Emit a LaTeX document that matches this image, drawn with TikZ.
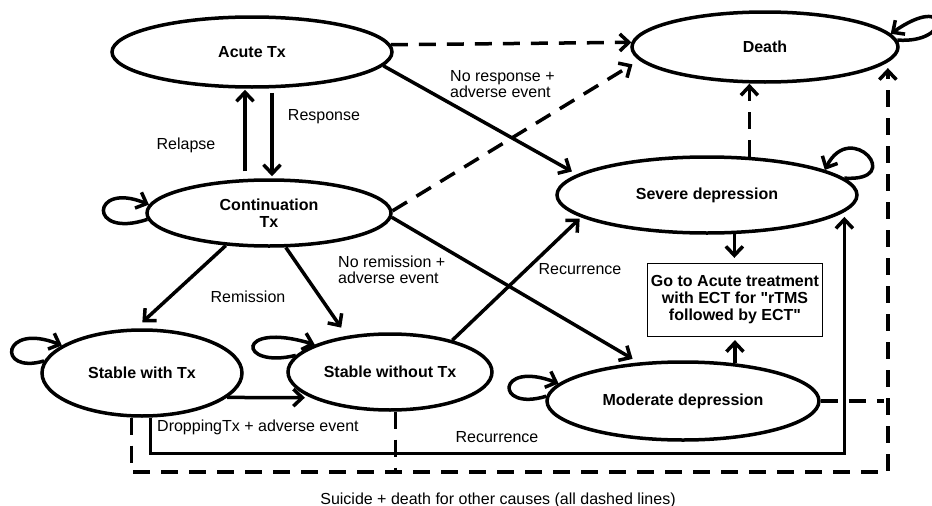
\documentclass[tikz,border=0pt]{standalone}
\usepackage{fontspec}
\setmainfont{Liberation Sans}[Ligatures=TeXOff]
\usetikzlibrary{shapes.geometric,arrows.meta}
\begin{document}
\begin{tikzpicture}[x=1pt,y=-1pt,
  st/.style={ellipse, draw, line width=3.5pt, inner sep=0pt, align=center,
    font=\bfseries\fontsize{16}{17}\selectfont},
  ln/.style={line width=3.5pt},
  arr/.style={ln, -{Straight Barb[length=9pt,width=17pt]}},
  dsh/.style={ln, dash pattern=on 17pt off 11pt},
  lbl/.style={inner sep=0pt, font=\fontsize{16}{15.5}\selectfont},
  boxst/.style={draw, line width=1.2pt, minimum width=175pt, minimum height=73pt,
    align=center, inner sep=0pt, font=\bfseries\fontsize{16}{17}\selectfont}]
\useasboundingbox (0,0) rectangle (932,506);

% states
\node[st, minimum width=280pt, minimum height=70pt] (A) at (252,52) {Acute Tx};
\node[st, minimum width=266pt, minimum height=70pt] (D) at (765,47) {Death};
\node[st, minimum width=244pt, minimum height=66pt] (C) at (269,213) {Continuation\\Tx};
\node[st, minimum width=300pt, minimum height=76pt] (S) at (707,195) {Severe depression};
\node[st, minimum width=200pt, minimum height=86pt] (SW) at (142,373) {Stable with Tx};
\node[st, minimum width=204pt, minimum height=76pt] (SO) at (390,372) {Stable without Tx};
\node[st, minimum width=272pt, minimum height=78pt] (M) at (683,401) {Moderate depression};
\node[boxst] (B) at (735,300) {Go to Acute treatment\\with ECT for "rTMS\\followed by ECT"};

% labels
\node[lbl, anchor=west, align=left] (l1) at (450,84) {No response +\\adverse event};
\node[lbl] (l2) at (186,145) {Relapse};
\node[lbl] (l3) at (324,116.5) {Response};
\node[lbl] (l4) at (248,297) {Remission};
\node[lbl, anchor=west, align=left] (l5) at (338,270) {No remission +\\adverse event};
\node[lbl] (l6) at (580,269) {Recurrence};
\node[lbl, anchor=west] (l7) at (157,427) {DroppingTx + adverse event};
\node[lbl] (l8) at (497,437) {Recurrence};
\node[lbl, anchor=base] (l9) at (498,504) {Suicide + death for other causes (all dashed lines)};

% relapse / response
\draw[arr, shorten <=7pt, shorten >=1pt] ([xshift=-24pt]C.north) -- ([xshift=-24pt]C.north |- A.south);
\draw[arr, shorten <=4pt, shorten >=2pt] ([xshift=3pt]C.north |- A.south) -- ([xshift=3pt]C.north);

% transitions
\draw[dsh, arr] (A.3.4) -- (D.178.7);
\draw[arr, shorten >=6pt] (A.-6) -- (S.171.7);
\draw[dsh, arr, shorten >=8pt] (C.1.4) -- (D.-174.3);
\draw[arr, shorten >=9pt] (C.-143.6) -- (SW.98.7);
\draw[arr, shorten >=10pt] (C.-64.1) -- (SO.140.2);
\draw[arr, shorten >=7pt] (C.-2.4) -- (M.139.5);
\draw[arr, shorten >=2pt] (SO.27.7) -- (S.-170.9);
\draw[arr, shorten >=6pt] (SW.-16.1) -- (SO.-162);
\draw[arr, shorten >=5pt] (S.-55.2) -- (S.-55.2 |- B.north);
\draw[arr, shorten >=3pt] (M.36) -- (M.36 |- B.south);
\draw[dsh, arr] (S.42.5) -- (S.42.5 |- D.south);

% long routes
\draw[arr, shorten >=5pt] (SW.-79.5) -- ++(0,36) -| (S.-7.2);
\draw[dsh, arr, shorten >=6pt] (SW.-103.1) -- ++(0,54.5) -| (D.-7.5);
\draw[dsh] (SO.-82.5) -- ++(0,60.5);
\draw[dsh] (M.east) -- ++(63,0);

% self loops
\draw[arr] (C.183) .. controls +(-60,20) and +(-58,-24) .. (C.176);
\draw[arr] (SW.173.3) .. controls +(-48,14) and +(-60,-24) .. (SW.161.1);
\draw[arr] (SO.170) .. controls +(-58,14) and +(-80,-24) .. (SO.160);
\draw[arr] (M.178) .. controls +(-52,16) and +(-62,-24) .. (M.172.6);
\draw[arr] (S.7.2) .. controls +(62,4) and +(26,-52) .. (S.12);
\draw[arr] (D.3.1) .. controls +(55,4) and +(60,-42) .. (D.6.2);
\end{tikzpicture}
\end{document}
